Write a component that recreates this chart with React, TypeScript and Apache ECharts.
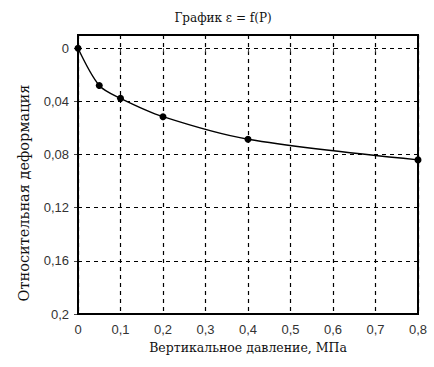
import React, { useEffect, useRef } from "react";
import * as echarts from "echarts";

const pressure = [0, 0.05, 0.1, 0.2, 0.4, 0.8];
const strain = [0, 0.028, 0.0377, 0.0515, 0.0685, 0.084];
const yTicks = [0, 0.04, 0.08, 0.12, 0.16, 0.2];
const titleText = "График ε = f(P)";
const xName = "Вертикальное давление, МПа";
const yName = "Относительная деформация";

const fmt = (v: number) => String(Math.round(v * 1000) / 1000).replace(".", ",");
const SERIF = "DejaVu Serif";
const SANS = "Liberation Sans";

export default function App() {
  const ref = useRef<HTMLDivElement>(null);
  useEffect(() => {
    if (!ref.current) return;
    const chart = echarts.init(ref.current, null, { renderer: "svg" });
    chart.setOption({
      animation: false,
      backgroundColor: "#fff",
      title: {
        text: titleText,
        left: 218,
        top: 7,
        textAlign: "center",
        textStyle: { fontFamily: SERIF, fontSize: 12, fontWeight: "normal", color: "#111" },
      },
      grid: { left: 78, right: 16, top: 35, bottom: 53, show: false },
      xAxis: {
        type: "value",
        min: 0,
        max: 0.8,
        interval: 0.1,
        name: xName,
        nameLocation: "middle",
        nameGap: 27,
        nameTextStyle: { fontFamily: SERIF, fontSize: 12.5, color: "#111" },
        axisLine: { show: false },
        axisTick: { show: true, length: 4, lineStyle: { color: "#444" } },
        axisLabel: { formatter: fmt, fontFamily: SANS, fontSize: 13, color: "#333", margin: 9 },
        splitLine: { show: true, lineStyle: { color: "#000", type: [4, 4], width: 1.2 } },
      },
      yAxis: {
        type: "value",
        inverse: true,
        min: -0.01,
        max: 0.2,
        axisLine: { show: false },
        axisTick: { show: true, length: 4, customValues: yTicks, lineStyle: { color: "#444" } },
        axisLabel: { customValues: yTicks, formatter: fmt, fontFamily: SANS, fontSize: 13, color: "#333", margin: 9 },
        splitLine: { show: false },
      },
      graphic: [
        {
          type: "rect",
          shape: { x: 78, y: 35, width: 340, height: 279 },
          style: { fill: "none", stroke: "#000", lineWidth: 2 },
          z: 100,
        },
        {
          type: "text",
          x: 24,
          y: 193,
          rotation: Math.PI / 2,
          style: {
            text: yName,
            fontFamily: SERIF,
            fontSize: 14.5,
            fill: "#111",
            align: "center",
            verticalAlign: "middle",
          },
        },
      ],
      series: [
        {
          type: "line",
          data: pressure.map((p, i) => [p, strain[i]]),
          smooth: 0.3,
          symbol: "circle",
          symbolSize: 7,
          itemStyle: { color: "#000" },
          lineStyle: { color: "#000", width: 1.4 },
          markLine: {
            silent: true,
            symbol: "none",
            label: { show: false },
            lineStyle: { color: "#000", type: [4, 4], width: 1.2 },
            data: yTicks.slice(0, 5).map((v) => ({ yAxis: v })),
          },
        },
      ],
    });
    return () => chart.dispose();
  }, []);
  return <div ref={ref} style={{ width: 434, height: 367, position: "absolute", left: 0, top: 0 }} />;
}
